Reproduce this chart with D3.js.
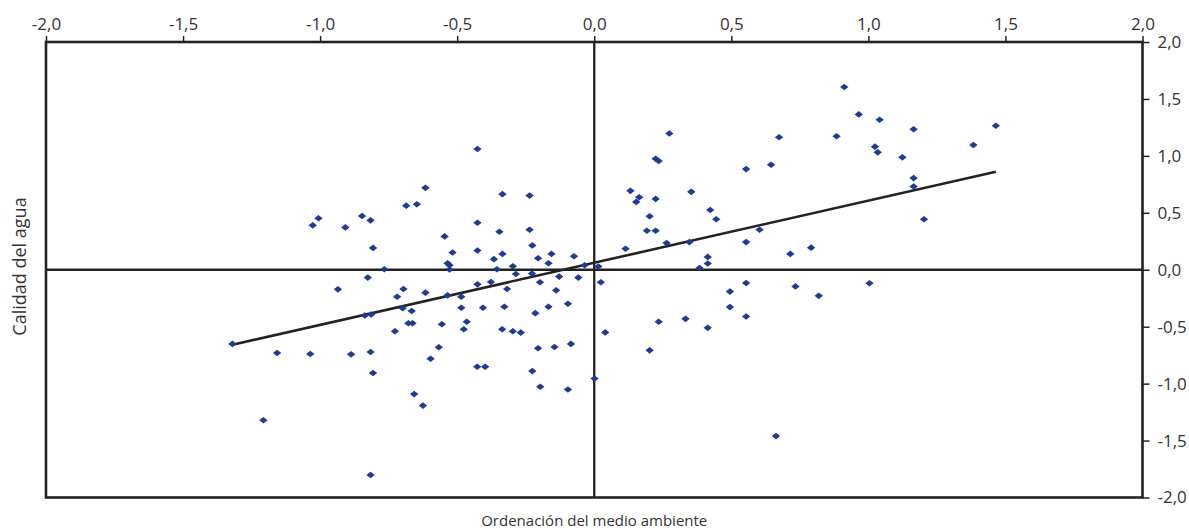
<!DOCTYPE html>
<html>
<head>
<meta charset="utf-8">
<script src="https://cdn.jsdelivr.net/npm/d3@7"></script>
<style>
    body { margin: 0; background: #fff; }
    text { font-family: "Open Sans", "Noto Sans", sans-serif; fill: #333; }
</style>
</head>
<body>
<svg id="chart" width="1189" height="531"></svg>
<script>
// Ordenación del medio ambiente (x) vs Calidad del agua (y)
const envScore = [
    -1.006, -1.027, -0.908, -0.847, -0.816, -0.807, -0.766, -0.826, -0.935, -0.719,
    -1.320, -1.157, -1.036, -0.887, -0.816, -0.807, -1.207, -0.816, -0.837, -0.814,
    -0.727, -0.426, -0.616, -0.686, -0.647, -0.335, -0.236, -0.426, -0.346, -0.236,
    -0.546, -0.226, -0.426, -0.517, -0.335, -0.366, -0.205, -0.156, -0.074, -0.535,
    -0.528, -0.528, -0.355, -0.297, -0.167, -0.035, 0.015, -0.286, -0.227, -0.128,
    -0.058, 0.024, -0.198, -0.377, -0.426, -0.318, -0.139, -0.696, -0.616, -0.535,
    -0.485, -0.096, -0.167, -0.485, -0.406, -0.328, -0.699, -0.666, -0.215, -0.678,
    -0.663, -0.556, -0.465, -0.476, -0.336, -0.297, -0.268, 0.040, -0.567, -0.597,
    -0.205, -0.145, -0.085, -0.427, -0.398, -0.226, 0.001, -0.197, -0.096, -0.657,
    -0.625,
    0.274, 0.674, 0.224, 0.235, 0.554, 0.645, 0.132, 0.164, 0.153, 0.224,
    0.354, 0.423, 0.445, 0.202, 0.192, 0.224, 0.603, 0.264, 0.347, 0.554,
    0.114, 0.715, 0.791, 0.414, 0.414, 0.384, 0.554, 0.495, 0.734, 0.819,
    0.495, 0.554, 0.235, 0.333, 0.414, 0.202, 0.663, 0.912, 0.965, 1.041,
    1.165, 1.465, 0.884, 1.024, 1.034, 1.124, 1.383, 1.165, 1.165, 1.203,
    1.004
];
const waterQuality = [
    0.452, 0.390, 0.372, 0.472, 0.434, 0.192, 0.004, -0.069, -0.172, -0.237,
    -0.651, -0.731, -0.740, -0.743, -0.722, -0.907, -1.322, -1.802, -0.402, -0.393,
    -0.540, 1.061, 0.719, 0.563, 0.575, 0.664, 0.651, 0.413, 0.334, 0.351,
    0.293, 0.214, 0.169, 0.152, 0.139, 0.093, 0.101, 0.139, 0.119, 0.057,
    0.040, 0.002, 0.004, 0.031, 0.057, 0.040, 0.028, -0.037, -0.034, -0.060,
    -0.069, -0.110, -0.110, -0.108, -0.128, -0.169, -0.181, -0.169, -0.201, -0.225,
    -0.237, -0.298, -0.325, -0.334, -0.334, -0.325, -0.338, -0.362, -0.381, -0.470,
    -0.470, -0.478, -0.457, -0.523, -0.523, -0.540, -0.552, -0.550, -0.681, -0.781,
    -0.690, -0.678, -0.651, -0.852, -0.852, -0.890, -0.955, -1.028, -1.052, -1.092,
    -1.193,
    1.196, 1.163, 0.975, 0.955, 0.884, 0.922, 0.693, 0.637, 0.596, 0.622,
    0.684, 0.525, 0.443, 0.470, 0.342, 0.342, 0.351, 0.234, 0.243, 0.243,
    0.184, 0.139, 0.194, 0.113, 0.055, 0.016, -0.117, -0.192, -0.146, -0.229,
    -0.328, -0.410, -0.457, -0.431, -0.510, -0.708, -1.461, 1.605, 1.364, 1.317,
    1.234, 1.264, 1.172, 1.081, 1.031, 0.987, 1.096, 0.805, 0.731, 0.443,
    -0.119
];
const xTicks = [-2, -1.5, -1, -0.5, 0, 0.5, 1, 1.5, 2];
const yTicks = [-2, -1.5, -1, -0.5, 0, 0.5, 1, 1.5, 2];
const xTitle = 'Ordenación del medio ambiente';
const yTitle = 'Calidad del agua';

const points = envScore.map((v, i) => ({ x: v, y: waterQuality[i] }));

const plotLeft = 46, plotRight = 1142.5, plotTop = 42, plotBottom = 497.5;
const ink = '#222';

const x = d3.scaleLinear().domain([-2, 2]).range([plotLeft, plotRight]);
const y = d3.scaleLinear().domain([-2, 2]).range([plotBottom, plotTop]);

const es = d3.formatLocale({ decimal: ',', thousands: '.', grouping: [3], currency: ['', ''], minus: '-' });
const fmt = es.format('.1f');

const svg = d3.select('#chart');

// top axis
const gx = svg.append('g')
    .attr('transform', `translate(0,${plotTop})`)
    .call(d3.axisTop(x).tickValues(xTicks).tickSize(6).tickPadding(6).tickFormat(fmt));
// right axis
const gy = svg.append('g')
    .attr('transform', `translate(${plotRight},0)`)
    .call(d3.axisRight(y).tickValues(yTicks).tickSize(7).tickPadding(8).tickFormat(fmt));

[gx, gy].forEach(g => {
    g.select('.domain').remove();
    g.selectAll('line').attr('stroke', ink).attr('stroke-width', 1.5);
    g.selectAll('text').attr('font-size', 17).attr('fill', '#333')
        .style('font-family', '"Open Sans", "Noto Sans", sans-serif');
});

// zero lines
svg.append('line')
    .attr('x1', plotLeft).attr('x2', plotRight)
    .attr('y1', y(0)).attr('y2', y(0))
    .attr('stroke', ink).attr('stroke-width', 2.3);
svg.append('line')
    .attr('x1', x(0)).attr('x2', x(0))
    .attr('y1', plotTop).attr('y2', plotBottom)
    .attr('stroke', ink).attr('stroke-width', 2.3);

// frame
svg.append('rect')
    .attr('x', plotLeft).attr('y', plotTop)
    .attr('width', plotRight - plotLeft).attr('height', plotBottom - plotTop)
    .attr('fill', 'none').attr('stroke', ink).attr('stroke-width', 2.6);

// least squares trend line
const mx = d3.mean(points, d => d.x), my = d3.mean(points, d => d.y);
const slope = d3.sum(points, d => (d.x - mx) * (d.y - my)) / d3.sum(points, d => (d.x - mx) ** 2);
const icpt = my - slope * mx;
const [x0, x1] = d3.extent(points, d => d.x);

svg.append('line')
    .attr('x1', x(x0)).attr('y1', y(icpt + slope * x0))
    .attr('x2', x(x1)).attr('y2', y(icpt + slope * x1))
    .attr('stroke', ink).attr('stroke-width', 2.6);

// diamonds
svg.append('g')
    .selectAll('path')
    .data(points)
    .join('path')
    .attr('transform', d => `translate(${x(d.x)},${y(d.y)})`)
    .attr('d', 'M0,-3.3L4.2,0L0,3.3L-4.2,0Z')
    .attr('fill', '#1d3d92');

// titles
svg.append('text')
    .attr('x', (plotLeft + plotRight) / 2).attr('y', 526)
    .attr('text-anchor', 'middle')
    .attr('font-size', 15)
    .text(xTitle);

svg.append('text')
    .attr('transform', 'translate(26,266.5) rotate(-90)')
    .attr('text-anchor', 'middle')
    .attr('font-size', 18)
    .text(yTitle);
</script>
</body>
</html>
